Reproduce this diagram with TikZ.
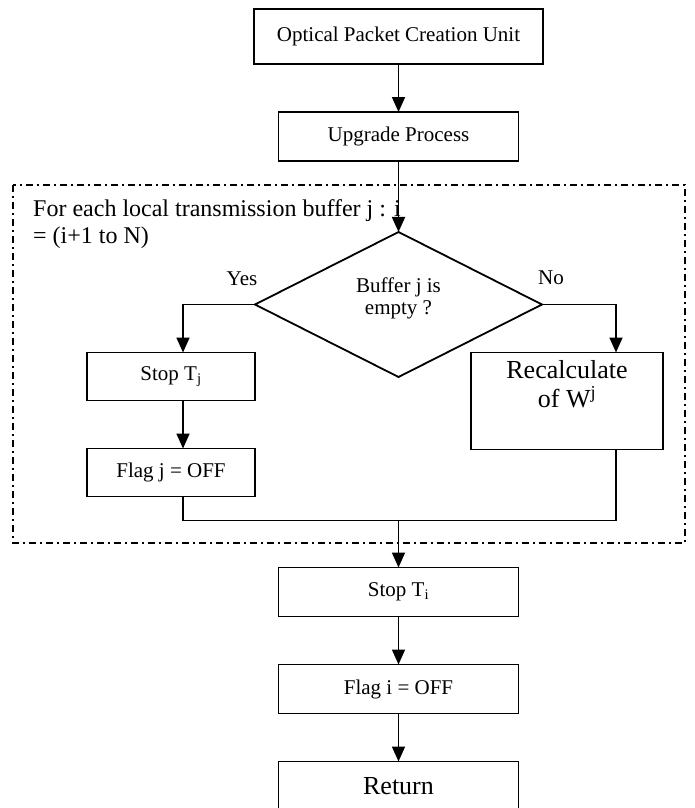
\documentclass[tikz,border=0pt]{standalone}
\usepackage{fontspec}
\setmainfont{Liberation Serif}
\usetikzlibrary{positioning}
\usetikzlibrary{shapes.geometric}
\usetikzlibrary{arrows.meta}

\tikzset{
  stepbox/.style={draw,line width=1.8pt,inner sep=0pt,outer sep=0pt,minimum width=240pt,minimum height=49pt,font=\fontsize{21}{23}\selectfont},
  bigtext/.style={font=\fontsize{26}{27}\selectfont},
  testbox/.style={draw,diamond,line width=1.8pt,inner sep=0pt,outer sep=0pt,minimum width=287pt,minimum height=145pt,font=\fontsize{21}{22}\selectfont},
  answer/.style={anchor=base,inner sep=0pt,font=\fontsize{21}{23}\selectfont},
  loopnote/.style={anchor=north west,inner sep=0pt,align=left,font=\fontsize{24}{27}\selectfont},
  loopframe/.style={line width=1.3pt,dash pattern=on 7pt off 4pt on 2pt off 4pt},
  flow/.style={line width=1.8pt,-{Triangle[length=15pt,width=13pt]}},
  wire/.style={line width=1.8pt},
}

\begin{document}
\begin{tikzpicture}[x=1pt,y=1pt]
\useasboundingbox (0,0) rectangle (694,-808);
% top of the chart
\node[stepbox,minimum width=289pt,minimum height=55pt](opc) at (398.5,-36.5) {Optical Packet Creation Unit};
\node[stepbox,below=48pt of opc](upg) {Upgrade Process};
% loop over the local buffers
\draw[loopframe] (13,-185) rectangle (685,-543);
\node[loopnote](loop) at (33,-199.6) {For each local transmission buffer j : i\\= (i+1 to N)};
\node[testbox,below=71pt of upg](test)
  {\raisebox{-10pt}[0pt][0pt]{\begin{tabular}[b]{@{}c@{}}Buffer j is\\empty ?\end{tabular}}};
\node[answer](yes) at ([xshift=-13pt,yshift=19pt]test.west) {Yes};
\node[answer](no) at ([xshift=9pt,yshift=20pt]test.east) {No};
\node[stepbox,minimum width=168pt,minimum height=48pt,below=48pt of test.west,anchor=north east](stopj) {Stop T\textsubscript{j}};
\node[stepbox,minimum width=168pt,minimum height=48pt,below=48pt of stopj](flagj) {Flag j = OFF};
\node[stepbox,bigtext,minimum width=192pt,minimum height=97pt,below=48pt of test.east,anchor=north west,xshift=-71pt](recalc)
  {\raisebox{-6.5pt}[0pt][0pt]{\begin{tabular}[b]{@{}c@{}}Recalculate\\of W\textsuperscript{j}\end{tabular}}};
\coordinate[below=24pt of flagj.south,xshift=12pt](joinl);
\coordinate[right=433pt of joinl](joinr);
\coordinate(merge) at (joinl -| test.south);
% after the loop
\node[stepbox,below=47pt of merge](stopi) {Stop T\textsubscript{i}};
\node[stepbox,below=48pt of stopi](flagi) {Flag i = OFF};
\node[stepbox,bigtext,below=48pt of flagi](ret) {Return};
% connectors
\draw[flow] (opc) -- (upg);
\draw[flow] (upg) -- (test);
\draw[flow] (test.west) -| ([xshift=12pt]stopj.north);
\draw[flow] (test.east) -| ([xshift=49pt]recalc.north);
\draw[flow] ([xshift=12pt]stopj.south) -- ([xshift=12pt]flagj.north);
\draw[wire] ([xshift=12pt]flagj.south) -- (joinl) -- (joinr) -- (joinr |- recalc.south);
\draw[flow] (merge) -- (stopi);
\draw[flow] (stopi) -- (flagi);
\draw[flow] (flagi) -- (ret);
\end{tikzpicture}
\end{document}
